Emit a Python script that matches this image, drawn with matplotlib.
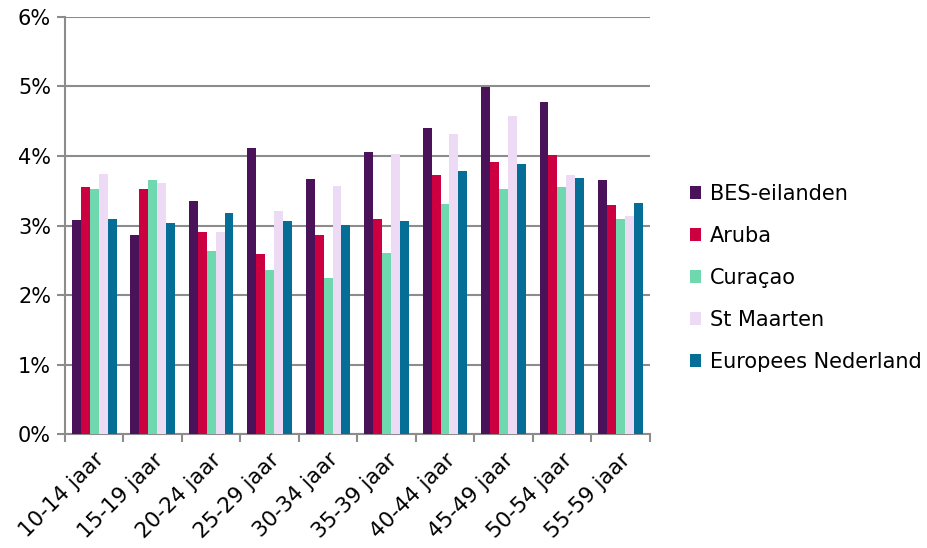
import numpy as np
import matplotlib
matplotlib.use("Agg")
import matplotlib.pyplot as plt
from matplotlib.ticker import FuncFormatter, FixedLocator, NullFormatter

# Data (percent)
categories = ["10-14 jaar", "15-19 jaar", "20-24 jaar", "25-29 jaar", "30-34 jaar",
              "35-39 jaar", "40-44 jaar", "45-49 jaar", "50-54 jaar", "55-59 jaar"]
series_names = ["BES-eilanden", "Aruba", "Curaçao", "St Maarten", "Europees Nederland"]
bes = [3.08, 2.87, 3.35, 4.12, 3.67, 4.06, 4.40, 4.99, 4.78, 3.65]
aruba = [3.56, 3.52, 2.90, 2.59, 2.86, 3.10, 3.73, 3.92, 4.02, 3.29]
curacao = [3.52, 3.66, 2.63, 2.36, 2.25, 2.61, 3.31, 3.53, 3.55, 3.10]
st_maarten = [3.74, 3.61, 2.90, 3.21, 3.57, 4.03, 4.31, 4.58, 3.73, 3.13]
eur_nl = [3.09, 3.03, 3.18, 3.07, 3.01, 3.06, 3.79, 3.88, 3.69, 3.32]
colors = ["#4A1258", "#CC0040", "#70D8AE", "#EDDAF4", "#046E96"]

values = [bes, aruba, curacao, st_maarten, eur_nl]

fig = plt.figure(figsize=(9.28, 5.48), dpi=100)
ax = fig.add_axes([0.070, 0.208, 0.630, 0.761])

x = np.arange(len(categories))
width = 0.153
for i, (name, vals) in enumerate(zip(series_names, values)):
    ax.bar(x + (i - 2) * width, vals, width, color=colors[i], label=name, zorder=3)

ax.set_xlim(-0.5, len(categories) - 0.5)
ax.set_ylim(0, 6)
ax.set_yticks(np.arange(0, 7, 1))
ax.yaxis.set_major_formatter(FuncFormatter(lambda v, p: "%d%%" % v))
ax.grid(axis="y", color="#8c8c8c", linewidth=1.5, zorder=0)

# ticks at category boundaries, labels at centres
ax.xaxis.set_major_locator(FixedLocator(np.arange(-0.5, len(categories), 1)))
ax.xaxis.set_major_formatter(NullFormatter())
ax.xaxis.set_minor_locator(FixedLocator(x))
ax.set_xticklabels(categories, minor=True, rotation=45, ha="right",
                   rotation_mode="anchor", fontsize=15.5)
ax.tick_params(axis="x", which="minor", length=0, pad=11)
ax.tick_params(axis="x", which="major", length=6, color="#8c8c8c", width=1.5)
ax.tick_params(axis="y", length=6, color="#8c8c8c", width=1.5, labelsize=15, pad=4)

for s in ["top", "right"]:
    ax.spines[s].set_visible(False)
for s in ["left", "bottom"]:
    ax.spines[s].set_color("#8c8c8c")
    ax.spines[s].set_linewidth(1.5)

fig.legend(loc="upper left", bbox_to_anchor=(0.732, 0.683), frameon=False,
           fontsize=15, handlelength=0.55, handleheight=0.55, handletextpad=0.4,
           labelspacing=1.05, borderpad=0)

fig.savefig("out.png", dpi=100)
